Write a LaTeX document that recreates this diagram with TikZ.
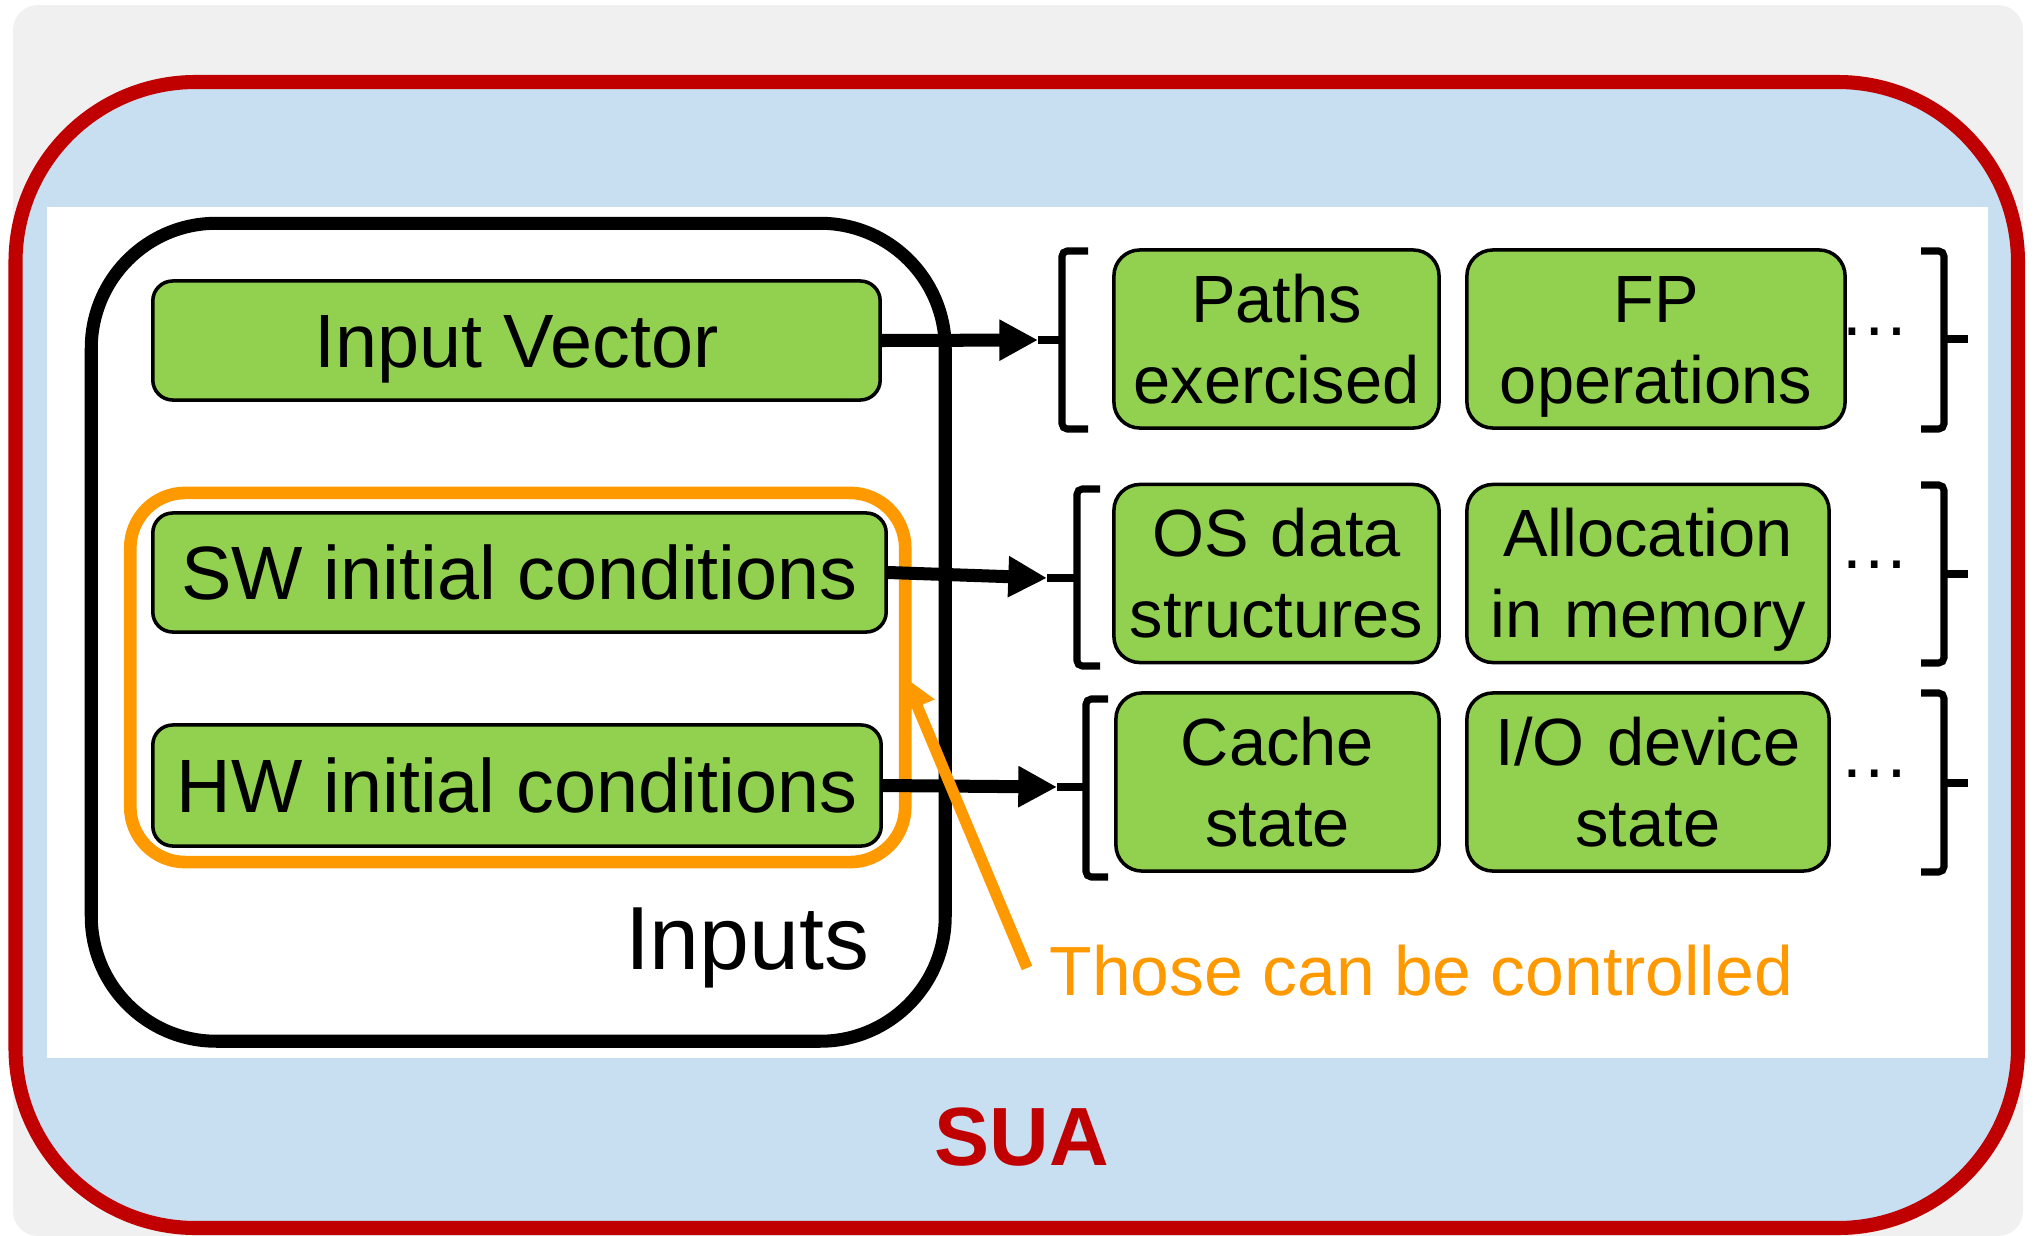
\documentclass[tikz,border=0pt]{standalone}
\usepackage{fontspec}
\setmainfont{Liberation Sans}
\usetikzlibrary{arrows.meta}
\definecolor{bggray}{RGB}{240,240,240}
\definecolor{suablue}{RGB}{199,223,240}
\definecolor{suared}{RGB}{192,0,0}
\definecolor{ctlorange}{RGB}{255,153,0}
\definecolor{boxgreen}{RGB}{146,208,80}
\tikzset{
  gbox/.style={draw=black, line width=1pt, fill=boxgreen, inner sep=0pt},
  lbox/.style={gbox, rounded corners=0.2cm, font=\fontsize{21.5}{26}\selectfont,
    text height=15.4pt, text depth=0pt},
  rbox/.style={gbox, rounded corners=0.26cm, font=\fontsize{19}{23}\selectfont,
    align=center, text width=#1, minimum width=#1, minimum height=1.78cm,
    text height=13.6pt, text depth=23pt},
  brk/.style={line width=2pt, rounded corners=1.5pt},
  feed/.style={line width=3.7pt, -{Triangle[length=11pt,width=11pt]}},
  ctlarrow/.style={draw=ctlorange, line width=3.2pt, -{Triangle[length=9pt,width=10pt]}},
  dotsnode/.style={anchor=base, inner sep=0pt, font=\fontsize{20}{24}\selectfont},
}
\begin{document}
\begin{tikzpicture}[x=0.01cm, y=-0.01cm]
\useasboundingbox (0,0) rectangle (2035,1236);
% backgrounds
\fill[bggray, rounded corners=0.25cm] (13,5) rectangle (2023,1236);
\draw[line width=4pt, draw=suared, fill=suablue, rounded corners=1.8cm] (15.5,82) rectangle (2018,1228);
\fill[white] (47,207) rectangle (1988,1058);
% inputs frame
\node[draw, line width=3.7pt, rounded corners=1.25cm, minimum width=8.535cm,
  minimum height=8.175cm, inner sep=0pt] (inputs) at (518.25,632.25) {};
\node[anchor=base east, font=\fontsize{25.5}{30}\selectfont, inner sep=0pt] (inlbl) at (870,969) {Inputs};
% controllable frame
\node[draw=ctlorange, line width=3.6pt, rounded corners=0.55cm, minimum width=7.745cm,
  minimum height=3.69cm, inner sep=0pt, outer sep=0pt] (ctl) at (517.75,677.5) {};
% input boxes
\node[lbox, minimum width=7.27cm, minimum height=1.19cm] (iv) at (516.5,340.5) {Input Vector};
\node[lbox, minimum width=7.33cm, minimum height=1.19cm] (sw) at (519.5,572.5) {SW initial conditions};
\node[lbox, minimum width=7.28cm, minimum height=1.21cm] (hw) at (517,785.5) {HW initial conditions};
% right boxes
\node[rbox=3.25cm] (paths) at (1276.5,339) {Paths\\exercised};
\node[rbox=3.78cm] (fp) at (1656,339) {FP\\operations};
\node[rbox=3.25cm] (os) at (1276.5,573.5) {OS data\\structures};
\node[rbox=3.62cm] (alloc) at (1648,573.5) {Allocation\\in memory};
\node[rbox=3.23cm] (cache) at (1277.5,782) {Cache\\state};
\node[rbox=3.62cm] (io) at (1648,782) {I/O device\\state};
% dots
\node[dotsnode] (d1) at (1875,335.5) {…};
\node[dotsnode] (d2) at (1875,568.5) {…};
\node[dotsnode] (d3) at (1875,777.5) {…};
% brackets
\coordinate (b1L) at (1038,340);
\coordinate (b2L) at (1047,578);
\coordinate (b3L) at (1057,787);
\draw[brk] (1088,251) -- (1062,251) -- (1062,429) -- (1088,429);
\draw[brk] (b1L) -- (1062,340);
\draw[brk] (1921,251) -- (1944,251) -- (1944,429) -- (1921,429);
\draw[brk] (1944,339) -- (1968,339);
\draw[brk] (1100,489) -- (1077,489) -- (1077,666) -- (1100,666);
\draw[brk] (b2L) -- (1077,578);
\draw[brk] (1921,485) -- (1944,485) -- (1944,663) -- (1921,663);
\draw[brk] (1944,574) -- (1968,574);
\draw[brk] (1108,699) -- (1086,699) -- (1086,877) -- (1108,877);
\draw[brk] (b3L) -- (1086,787);
\draw[brk] (1921,693) -- (1944,693) -- (1944,872) -- (1921,872);
\draw[brk] (1944,783) -- (1968,783);
% arrows
\draw[feed] (iv.east) -- (b1L);
\draw[feed] (sw.east) -- (b2L);
\draw[feed] (hw.east) -- (b3L);
% note
\coordinate (ctlfrom) at (1027,968);
\draw[ctlarrow] (ctlfrom) -- (ctl.east);
\node[anchor=base west, text=ctlorange, font=\fontsize{19.8}{24}\selectfont, inner sep=0pt] (note) at (1049,995.5) {Those can be controlled};
\node[anchor=base, text=suared, font=\bfseries\fontsize{23.5}{28}\selectfont, inner sep=0pt] (sua) at (1022,1165) {SUA};
\end{tikzpicture}
\end{document}
